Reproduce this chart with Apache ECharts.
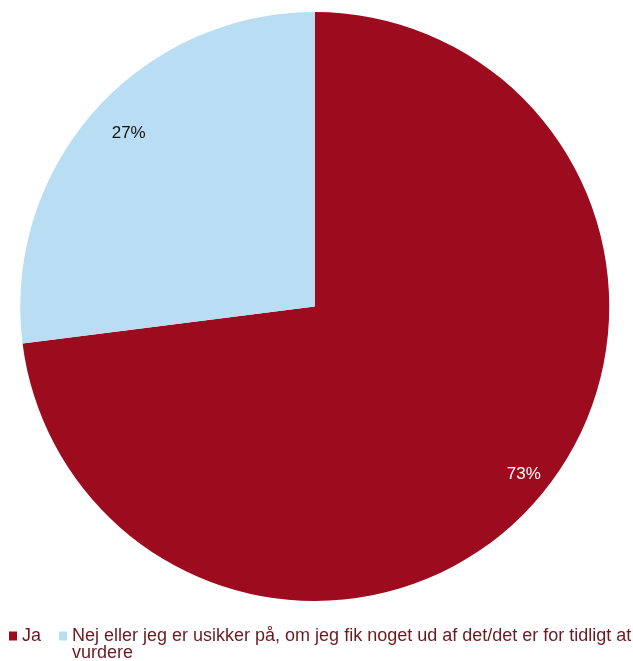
<!DOCTYPE html>
<html>
<head>
<meta charset="utf-8">
<style>
  html, body { margin: 0; padding: 0; background: #ffffff; }
  #chart { width: 633px; height: 661px; }
</style>
<script src="https://cdn.jsdelivr.net/npm/echarts@6/dist/echarts.min.js"></script>
</head>
<body>
<div id="chart"></div>
<script>
// Answer categories and their shares (percent)
const categories = ['Ja', 'Nej eller jeg er usikker på, om jeg fik noget ud af det/det er for tidligt at vurdere'];
const shares = [73, 27];
const sliceColors = ['#9d0b1f', '#b9def3'];
const labelColors = ['#ffffff', '#111111'];

const FONT = '"Liberation Sans", Arial, sans-serif';
const LEGEND_LINE = 17;

const pieData = categories.map((name, i) => ({
  name: name,
  value: shares[i],
  itemStyle: { color: sliceColors[i] }
}));

const labelData = categories.map((name, i) => ({
  name: name,
  value: shares[i],
  label: { color: labelColors[i] }
}));

const chart = echarts.init(document.getElementById('chart'), null, { renderer: 'canvas' });

chart.setOption({
  animation: false,
  backgroundColor: '#ffffff',
  legend: {
    orient: 'horizontal',
    left: 9,
    top: 610,
    width: 700,
    padding: 0,
    itemGap: 18,
    itemWidth: 8,
    itemHeight: 9,
    icon: 'rect',
    selectedMode: false,
    textStyle: {
      fontFamily: FONT,
      fontSize: 18,
      color: '#6a1a20',
      lineHeight: LEGEND_LINE
    },
    data: categories,
    formatter: function (name) {
      // the long entry wraps onto a second line; a leading blank line keeps
      // its first line level with the marker (the block is centred on it)
      return name === categories[1] ? '\n' + name.replace(' vurdere', '\nvurdere') : name;
    }
  },
  series: [
    {
      type: 'pie',
      center: [314.75, 306.5],
      radius: 294.5,
      startAngle: 90,
      clockwise: true,
      silent: true,
      label: { show: false },
      labelLine: { show: false },
      emphasis: { disabled: true },
      data: pieData
    },
    {
      // transparent ring that only carries the percentage labels
      type: 'pie',
      center: [314.75, 306.5],
      radius: [252, 270],
      startAngle: 90,
      clockwise: true,
      silent: true,
      itemStyle: { color: 'rgba(0,0,0,0)' },
      label: {
        show: true,
        position: 'inside',
        fontFamily: FONT,
        fontSize: 17,
        formatter: '{c}%'
      },
      labelLayout: function (params) {
        return params.dataIndex === 0 ? { dx: 11, dy: -7 } : { dx: 12, dy: 1 };
      },
      labelLine: { show: false },
      emphasis: { disabled: true },
      data: labelData
    }
  ]
});
</script>
</body>
</html>
